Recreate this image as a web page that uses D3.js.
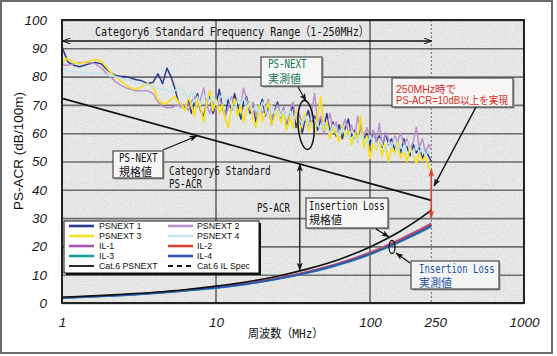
<!DOCTYPE html>
<html><head><meta charset="utf-8">
<script src="https://cdn.jsdelivr.net/npm/d3@7"></script>
<style>body{margin:0;background:#fff}svg{display:block}</style>
</head><body><svg id="c" width="557" height="356"></svg>
<script>
// ---------- data ----------
const xTicks = [1, 10, 100, 250, 1000];
const yTicks = [0, 10, 20, 30, 40, 50, 60, 70, 80, 90, 100];

const freqMeas = [
1,1.05,1.1,1.2,1.3,1.4,1.5,1.65,1.8,2.0,2.2,2.4,2.6,2.8,3.0,3.3,3.6,3.9,4.2,4.5,4.8,5.1,5.4,5.7,6.0,
6.31,6.61,6.92,7.24,7.59,7.94,8.32,8.71,9.12,9.55,
10,10.5,11,11.5,12,12.6,13.2,13.8,14.5,15.1,
15.8,16.6,17.4,18.2,19.1,20,20.9,21.9,22.9,24,
25.1,26.3,27.5,28.8,30.2,31.6,33.1,34.7,36.3,38,
39.8,41.7,43.7,45.7,47.9,50.1,52.5,55,57.5,60.3,
63.1,66.1,69.2,72.4,75.9,79.4,83.2,87.1,91.2,95.5,
100,105,110,115,120,126,132,138,145,151,
158,166,174,182,191,200,209,219,229,240,250];

const psnext1 = [
90.5,87.5,85,84,83.5,84,84.5,85,84.5,82,80.5,80,80,79.5,79,78.5,77.5,78,81,77.5,83,80,76,71,70,
69,72,67,71,74,68,66,71,73,67,
70,75.5,69,66,72,68,74,70,65,71,
73,67,70,64,69,72,66,70,63,68,
71,65,69,63,67,70,62,66,60,65,
68,63,66,61,65,62,67,60,64,59,
63,58,62,65,59,61,57,63,58,60,
56,61,57,59,55,60,56,58,54,57,
53,58,55,52,56,53,55,51,54,52,50];

const psnext2 = [
84.5,84,84,84.5,85,85,85,84.5,83,80.5,78.5,77,76,75.5,75,75,75,74,71,69.5,69,69,69.5,70,69,
70,68,71,73,69,72,76,70,67,71,
68,72,70,66,69,73,71,67,70,76,
72,68,71,66,70,67,69,72,65,68,
70,66,69,64,68,71,65,67,63,66,
62,67,74,64,66,60,63,67,61,64,
59,62,65,60,63,58,66,61,59,62,
58,61,57,63.5,56,60,58,55,59,57,
60,56,58,54,57,62,55,58,53,56,54];

const psnext3 = [
84.5,86.5,86,85,84.5,85,85.5,86,85.5,82.5,80,78.5,77,76,75.5,76.5,77.5,76.5,72,70.5,70.5,72,73,71,70,
68,73,70,66,72,69,64,71,75,68,
72,67,70,65,62,69,72,66,70,64,
68,71,65,62,70,64,67,71,63,66,
69,64,67,61,66,62,68,60,64,67,
61,64,60,66,73,61,64,58,62,60,
57,63,59,61,56,60,58,66,55,59,
51,57,54,58,52,56,50,55,53,57,
51,54,50,55,52,49.5,53,50,52,48,47];

const psnext4 = [
83,82.5,82,81.8,81.5,81.5,81.3,81.3,81,80.5,80,79.5,79,78.5,78,77.5,77,76.5,76,75.5,75,74.5,75,76,75,
74,72,75,71,73,70,72,74,71,73,
70,72,74,71,73,70,68,72,70,73,
69,71,68,70,67,71,69,66,70,67,
69,66,68,65,68,64,67,65,63,66,
64,62,65,63,61,64,62,60,63,61,
59,62,60,58,61,59,57,60,58,56,
59,57,55,58,56,54,57,55,58,54,
56,53,57,54,52,56,53,55,52,54,52];

const freqIL = [1, 2, 4, 6, 10, 16, 25, 40, 63, 100, 160, 200, 250];
const il1 = [1.9, 2.6, 3.6, 4.4, 5.6, 7.0, 8.8, 11.2, 14.1, 17.9, 22.8, 25.4, 28.2];
const il2 = [1.85, 2.55, 3.55, 4.35, 5.5, 6.9, 8.7, 11.0, 13.9, 17.6, 22.4, 25.0, 27.8];
const il3 = [1.75, 2.45, 3.4, 4.2, 5.3, 6.7, 8.4, 10.7, 13.5, 17.1, 21.8, 24.3, 27.0];
const il4 = [1.8, 2.5, 3.5, 4.25, 5.4, 6.8, 8.55, 10.85, 13.7, 17.35, 22.1, 24.6, 27.4];

const cat6IlSpec = [2.02, 2.78, 3.80, 4.61, 5.95, 7.52, 9.47, 12.15, 15.4, 19.8, 25.6, 29.0, 32.85];
const cat6PsnextFreq = [1, 250];
const cat6PsnextSpec = [72.3, 36.3];

const legendNames = ["PSNEXT 1","PSNEXT 2","PSNEXT 3","PSNEXT 4","IL-1","IL-2","IL-3","IL-4","Cat.6 PSNEXT","Cat.6 IL Spec"];
const legendColors = ["#2a3c8e","#bb92cc","#f6e024","#c4e4ec","#a455b4","#d8452f","#1f9aa6","#3454b4","#111111","#111111"];

// ---------- setup ----------
const MONO = "'DejaVu Sans Mono','Noto Sans CJK JP',monospace";
const SANS = "'Liberation Sans','Noto Sans CJK JP',Arial,sans-serif";
const svg = d3.select("#c");
const L = 62, R = 524, T = 20, B = 303;
const x = d3.scaleLog().domain([1, 1000]).range([L, R]);
const y = d3.scaleLinear().domain([0, 100]).range([B, T]);

const defs = svg.append("defs");
const nf = defs.append("filter").attr("id","noise").attr("x",0).attr("y",0).attr("width","100%").attr("height","100%");
nf.append("feTurbulence").attr("type","fractalNoise").attr("baseFrequency",0.9).attr("numOctaves",1).attr("seed",4);
nf.append("feColorMatrix").attr("type","matrix").attr("values","0 0 0 0 0.45  0 0 0 0 0.45  0 0 0 0 0.45  2.2 0 0 0 -1.0");
defs.append("clipPath").attr("id","plotclip").append("rect").attr("x",L).attr("y",T).attr("width",R-L).attr("height",B-T);

function marker(id, color, open) {
  const m = defs.append("marker").attr("id", id).attr("viewBox","0 0 8 6").attr("refX",7.5).attr("refY",3)
    .attr("markerWidth",8).attr("markerHeight",6).attr("markerUnits","userSpaceOnUse").attr("orient","auto-start-reverse");
  if (open) m.append("path").attr("d","M0,0L8,3L0,6").attr("fill","none").attr("stroke",color).attr("stroke-width",1);
  else m.append("path").attr("d","M0,0L8,3L0,6L2,3Z").attr("fill",color);
}
marker("ah","#111",false);
marker("aho","#111",true);
marker("ahr","#e0402c",false);

// outer frame
svg.append("rect").attr("x",1).attr("y",1).attr("width",551).attr("height",352)
  .attr("fill","#fff").attr("stroke","#6a6a6a").attr("stroke-width",2);

// plot background
svg.append("rect").attr("x",L).attr("y",T).attr("width",R-L).attr("height",B-T).attr("fill","#eaeaea");
svg.append("rect").attr("x",L).attr("y",T).attr("width",R-L).attr("height",B-T).attr("filter","url(#noise)").attr("opacity",0.5);

// horizontal grid + y labels via axis
const yAxis = svg.append("g").attr("transform",`translate(${L},0)`)
  .call(d3.axisLeft(y).tickValues(yTicks).tickSize(-(R-L)).tickPadding(15).tickFormat(d3.format("d")));
yAxis.select(".domain").remove();
yAxis.selectAll(".tick line").attr("stroke","#6e6e6e").attr("stroke-width",1.6);
yAxis.selectAll(".tick text").attr("font-family",SANS).attr("font-size",13.5).attr("font-style","italic").attr("fill","#1a1a1a");

// vertical grid
svg.append("g").selectAll("line").data([10, 100]).join("line")
  .attr("x1",d=>x(d)).attr("x2",d=>x(d)).attr("y1",T).attr("y2",B).attr("stroke","#1a1a1a").attr("stroke-width",1);
svg.append("line").attr("x1",x(250)).attr("x2",x(250)).attr("y1",T).attr("y2",B)
  .attr("stroke","#666").attr("stroke-width",1).attr("stroke-dasharray","2,2");

// x axis labels
const xAxis = svg.append("g").attr("transform",`translate(0,${B})`)
  .call(d3.axisBottom(x).tickValues(xTicks).tickSize(0).tickPadding(14).tickFormat(d3.format("d")));
xAxis.select(".domain").remove();
xAxis.selectAll(".tick text").attr("font-family",SANS).attr("font-size",13.5).attr("font-style","italic").attr("fill","#1a1a1a")
  .attr("dx",d=>d===250?4:0);

// ---------- series ----------
const plot = svg.append("g").attr("clip-path","url(#plotclip)");
const line = d3.line().x(d=>x(d[0])).y(d=>y(d[1]));
const smooth = d3.line().x(d=>x(d[0])).y(d=>y(d[1])).curve(d3.curveMonotoneX);
const zip = (fs, vs) => fs.map((f,i)=>[f, vs[i]]);

[psnext1, psnext2, psnext3, psnext4].forEach((s,i)=>{
  plot.append("path").attr("d", line(zip(freqMeas, s))).attr("fill","none")
    .attr("stroke", legendColors[i]).attr("stroke-width", i===2?1.8:1.5).attr("stroke-linejoin","round");
});
[il1, il2, il3, il4].forEach((s,i)=>{
  plot.append("path").attr("d", smooth(zip(freqIL, s))).attr("fill","none")
    .attr("stroke", legendColors[4+i]).attr("stroke-width",1.8);
});
plot.append("path").attr("d", line(zip(cat6PsnextFreq, cat6PsnextSpec))).attr("fill","none").attr("stroke","#111").attr("stroke-width",1.8);
plot.append("path").attr("d", smooth(zip(freqIL, cat6IlSpec))).attr("fill","none").attr("stroke","#111").attr("stroke-width",1.6);

// plot frame
svg.append("rect").attr("x",L).attr("y",T).attr("width",R-L).attr("height",B-T).attr("fill","none").attr("stroke","#222").attr("stroke-width",2);

// ---------- annotations ----------
function textW(t, hw) { let n=0; for (const ch of t) n += ch.charCodeAt(0) < 256 ? hw : hw*2; return n; }
function monoLine(t, x0, y0, fs, color, hw) {
  const el = svg.append("text").attr("x",x0).attr("y",y0).attr("font-family",MONO).attr("font-size",fs).attr("fill",color||"#111").text(t);
  if (/[\x20-\x7e]/.test(t)) el.attr("textLength", textW(t, hw || 5.5)).attr("lengthAdjust","spacingAndGlyphs");
  return el;
}
function box(x0,y0,x1,y1,fill) {
  svg.append("rect").attr("x",x0+1.5).attr("y",y0+1.5).attr("width",x1-x0).attr("height",y1-y0).attr("fill","#9a9a9a");
  svg.append("rect").attr("x",x0).attr("y",y0).attr("width",x1-x0).attr("height",y1-y0).attr("fill",fill||"#f7f7f7").attr("stroke","#4a4a4a").attr("stroke-width",1.2);
}
function arrow(x0,y0,x1,y1,id,color,w,both) {
  const l = svg.append("line").attr("x1",x0).attr("y1",y0).attr("x2",x1).attr("y2",y1)
    .attr("stroke",color||"#111").attr("stroke-width",w||1.2).attr("marker-end",`url(#${id||"ah"})`);
  if (both) l.attr("marker-start",`url(#${id||"ah"})`);
}

// range title
monoLine("Category6 Standard Frequency Range（1-250MHz）", 95, 36, 12.5, "#111", 5.95);
arrow(x(1)+1, 41, x(250), 41, "aho", "#111", 1.5, true);

// PS-NEXT measured
box(261,57,322,86,"#f6f6f6");
monoLine("PS-NEXT", 268, 68, 12, "#1c7a58");
monoLine("実測値", 268, 83, 11, "#1c7a58");
arrow(298,87,306,101);
svg.append("ellipse").attr("cx",306).attr("cy",125).attr("rx",8).attr("ry",24.5)
  .attr("fill","none").attr("stroke","#111").attr("stroke-width",1.5).attr("transform","rotate(-4 306 125)");

// 250MHz note
box(392,78,513,107,"#f8f5f5");
svg.append("text").attr("x",396).attr("y",92.5).attr("font-family",SANS).attr("font-size",10.5).attr("fill","#d8302c").text("250MHz時で");
svg.append("text").attr("x",396).attr("y",103.5).attr("font-family",SANS).attr("font-size",10.5).attr("fill","#d8302c")
  .attr("textLength",112).attr("lengthAdjust","spacingAndGlyphs").text("PS-ACR=10dB以上を実現");
arrow(476,107,434,186,"ah","#111",1.5);
arrow(x(250), y(47.3), x(250), y(30), "ahr", "#e0402c", 1.6, true);

// PS-NEXT spec
box(113,151,163,178,"#f6f6f6");
monoLine("PS-NEXT", 119, 162, 12);
monoLine("規格値", 119, 176, 11);
arrow(163,150,197,136);

monoLine("Category6 Standard", 169, 175, 12, "#111", 5.65);
monoLine("PS-ACR", 169, 188, 12);
monoLine("PS-ACR", 257, 212, 12);
arrow(x(35), y(49.1), x(35), y(11.6), "ah", "#111", 1.3, true);

// Insertion loss spec
box(306,198,388,228,"#f6f6f6");
monoLine("Insertion Loss", 309, 210, 12, "#111", 5.4);
monoLine("規格値", 309, 224, 11);
arrow(376,229,389,237);
svg.append("ellipse").attr("cx",392).attr("cy",247).attr("rx",3).attr("ry",6.5).attr("fill","none").attr("stroke","#111").attr("stroke-width",1.3);

// Insertion loss measured
box(411,261,499,289,"#f4f4f4");
monoLine("Insertion Loss", 419, 273, 12, "#2454a4", 5.4);
monoLine("実測値", 419, 287, 11, "#2454a4");
arrow(410,263,396,253);

// ---------- legend ----------
svg.append("rect").attr("x",66).attr("y",223).attr("width",195).attr("height",52).attr("fill","#111");
svg.append("rect").attr("x",64).attr("y",221).attr("width",195).attr("height",52).attr("fill","#fff").attr("stroke","#111").attr("stroke-width",1);
const lg = svg.append("g");
legendNames.forEach((n,i)=>{
  const col = i%2, row = Math.floor(i/2);
  const lx = col ? 168 : 69, tx = col ? 197 : 99, by = 229 + row*10;
  lg.append("line").attr("x1",lx).attr("x2",lx+25).attr("y1",by-3).attr("y2",by-3)
    .attr("stroke",legendColors[i]).attr("stroke-width", i>=8 ? 1.8 : 2.6)
    .attr("stroke-dasharray", i===9 ? "5,4" : null);
  lg.append("text").attr("x",tx).attr("y",by).attr("font-family",SANS).attr("font-size",8.8).attr("fill","#111").text(n);
});

// axis titles
monoLine("周波数（MHz）", 248, 338, 12, "#111", 5.8);
svg.append("text").attr("transform","translate(23,151) rotate(-90)").attr("text-anchor","middle")
  .attr("font-family",SANS).attr("font-size",13.5).attr("fill","#111").text("PS-ACR (dB/100m)");
</script></body></html>
